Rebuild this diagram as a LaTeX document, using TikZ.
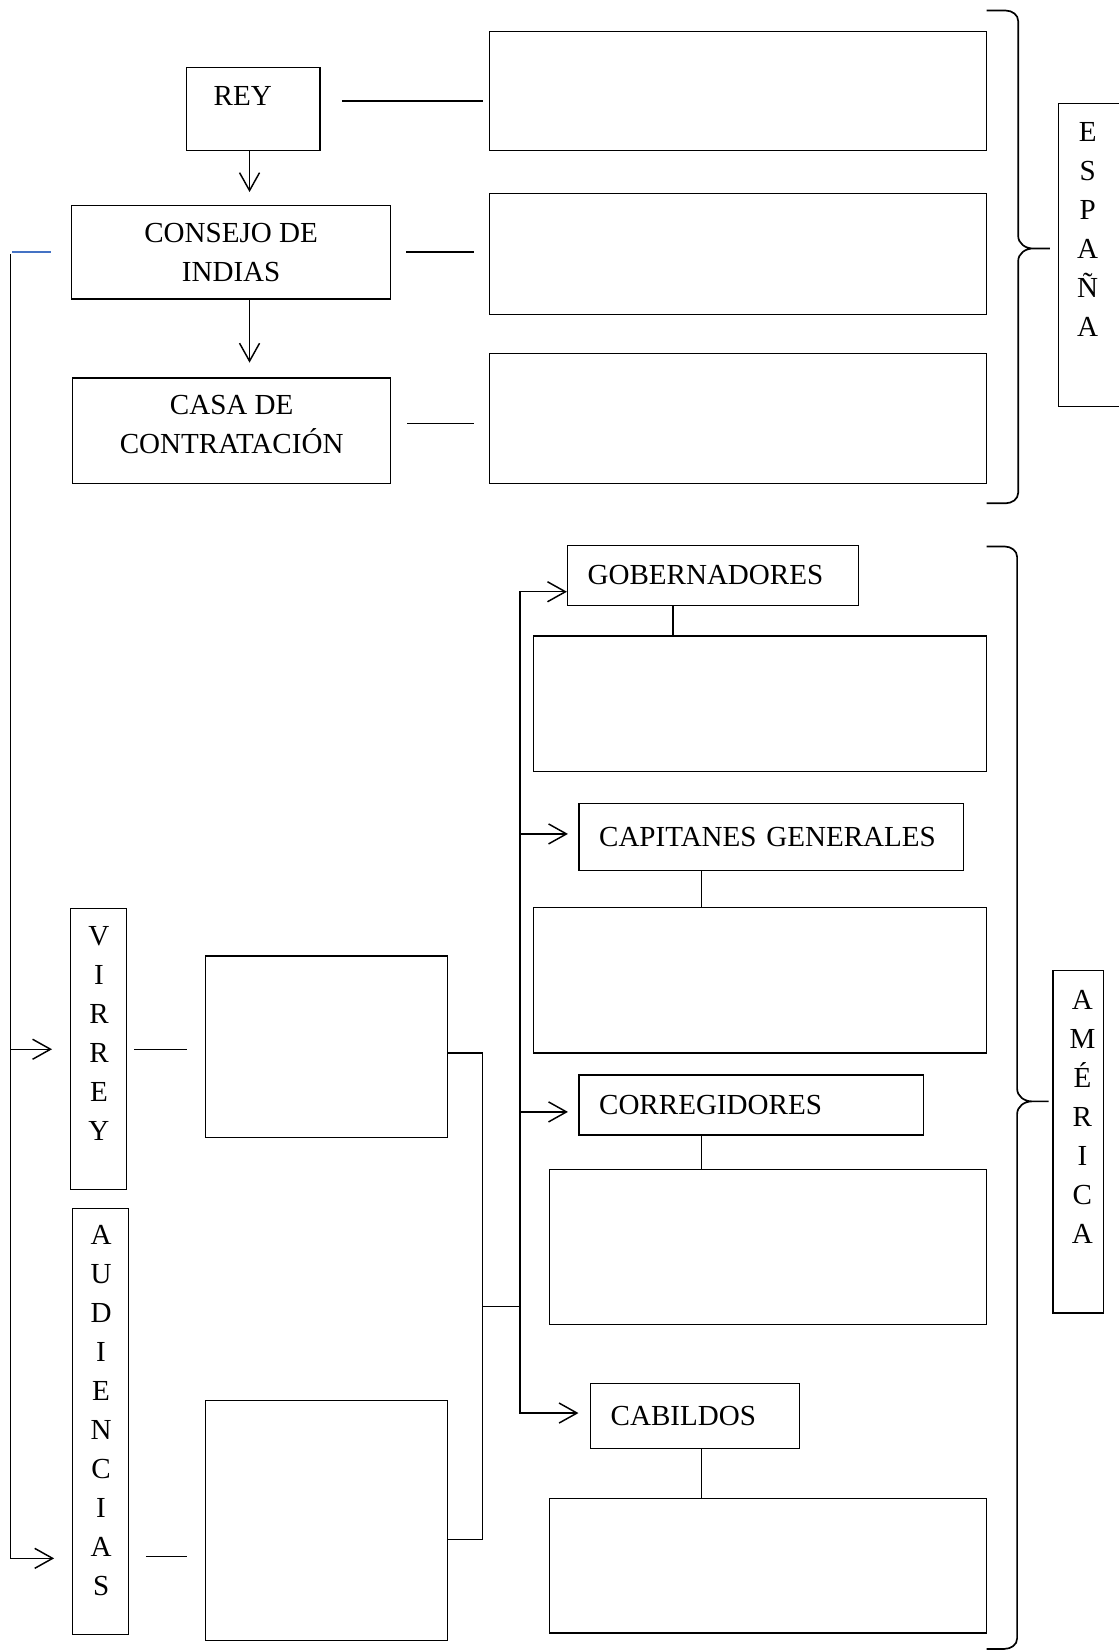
\documentclass[tikz,border=0pt]{standalone}
\usepackage{fontspec}
\setmainfont{Liberation Serif}
\usetikzlibrary{arrows.meta}
\definecolor{wordblue}{RGB}{68,114,196}

\begin{document}
\begin{tikzpicture}[x=1pt,y=-1pt,line width=1.4pt,
		font=\fontsize{27.6}{37}\selectfont,
		box/.style={draw,line width=1.2pt,inner sep=0pt},
		head/.style={draw,line width=1.2pt,inner xsep=19pt,inner ysep=0pt,align=left},
		word/.style={inner sep=0pt,anchor=north,align=center},
		arr/.style={-{Straight Barb[length=17pt,width=19pt]}},
		brace/.style={line width=1.6pt}]
				\useasboundingbox (0,0) rectangle (1062,1568);
				\node[box,minimum width=127pt,minimum height=79pt] (rey) at (240.5,103.5) {};
				\node[word] (reyT) at (230.5,81) {REY};
				\node[box,minimum width=472pt,minimum height=113pt] (rA) at (701,86.5) {};
				\node[box,minimum width=303pt,minimum height=89pt,align=center] (consejo) at (219.5,239.5) {CONSEJO DE\\INDIAS};
				\node[box,minimum width=472pt,minimum height=115pt] (rB) at (701,241.5) {};
				\node[box,minimum width=302pt,minimum height=100pt] (casa) at (220,409) {};
				\node[align=center,inner sep=0pt] (casaT) at (220,403) {CASA DE\\CONTRATACIÓN};
				\node[box,minimum width=472pt,minimum height=123pt] (rC) at (701,397.5) {};
				\node[box,minimum width=100pt,minimum height=288pt] (espana) at (1055,242) {};
				\node[word] (espanaT) at (1033,116) {E\\S\\P\\A\\Ñ\\A};
				\node[head,text width=238pt,minimum height=57pt] (gob) at (677,546.5) {GOBERNADORES};
				\node[box,minimum width=430pt,minimum height=129pt] (gobB) at (722,668.5) {};
				\node[head,text width=327pt,minimum height=64pt] (cap) at (732.5,795) {CAPITANES GENERALES};
				\node[box,minimum width=430pt,minimum height=138pt] (capB) at (722,931) {};
				\node[head,text width=289pt,minimum height=57pt] (corr) at (713.5,1049.5) {CORREGIDORES};
				\node[box,minimum width=415pt,minimum height=147pt] (corrB) at (729.5,1184.5) {};
				\node[head,text width=160pt,minimum height=62pt] (cab) at (660,1345) {CABILDOS};
				\node[box,minimum width=415pt,minimum height=128pt] (cabB) at (729.5,1487) {};
				\node[box,minimum width=48pt,minimum height=325pt] (america) at (1024,1084.5) {};
				\node[word] (americaT) at (1028,940) {A\\M\\É\\R\\I\\C\\A};
				\node[box,minimum width=53pt,minimum height=267pt] (virrey) at (93.5,996.5) {};
				\node[word] (virreyT) at (94,879) {V\\I\\R\\R\\E\\Y};
				\node[box,minimum width=230pt,minimum height=172pt] (virreyB) at (310,994) {};
				\node[box,minimum width=53pt,minimum height=404pt] (audi) at (95.5,1350) {};
				\node[word] (audiT) at (96,1163) {A\\U\\D\\I\\E\\N\\C\\I\\A\\S};
				\node[box,minimum width=230pt,minimum height=228pt] (audiB) at (310,1444) {};
				\draw ([xshift=20pt,yshift=7.5pt]rey.east) -- ([xshift=-6pt,yshift=-9.5pt]rA.west);
				\draw[shorten <=14pt,shorten >=14pt] (consejo.east) -- (consejo.east -| rB.west);
				\draw[shorten <=15pt,shorten >=14pt] ([yshift=7pt]casa.east) -- ([yshift=7pt]casa.east -| rC.west);
				\draw[arr,shorten >=12pt] ([xshift=-3.5pt]rey.south) -- ([xshift=-3.5pt]rey.south |- consejo.north);
				\draw[arr,shorten >=14pt] ([xshift=17.5pt]consejo.south) -- ([xshift=17.5pt]consejo.south |- casa.north);
				\draw[brace] (937,10) -- (955,10) to[out=0,in=90] (967,20) -- (967,224) to[out=-90,in=180] (981,236) -- (997,236)
					(981,236) to[out=180,in=90] (967,248) -- (967,468) to[out=-90,in=0] (955,478) -- (937,478);
				\draw[brace] (937,519) -- (954,519) to[out=0,in=90] (966,529) -- (966,1034) to[out=-90,in=180] (980,1046) -- (996,1046)
					(980,1046) to[out=180,in=90] (966,1058) -- (966,1556) to[out=-90,in=0] (954,1566) -- (937,1566);
				\coordinate (lt) at (10,241);
				\draw[wordblue] ([xshift=-56pt]consejo.west) -- ([xshift=-19pt]consejo.west);
				\draw[arr,shorten >=17pt] (lt) |- (virrey.west);
				\draw[arr,shorten >=17pt] (lt) |- ([yshift=-130pt]audi.west);
				\draw[shorten <=7pt,shorten >=17pt] (virrey.east) -- (virrey.east -| virreyB.west);
				\draw[shorten <=16pt,shorten >=17pt] ([yshift=-128pt]audi.east) -- ([yshift=-128pt]audi.east -| audiB.west);
				\coordinate (split) at (458,1241);
				\coordinate (trunk) at (494,1241);
				\draw ([yshift=-6pt]virreyB.east) -| (split);
				\draw ([yshift=-18pt]audiB.east) -| (split);
				\draw (split) -- (trunk);
				\draw[arr] (trunk) |- ([yshift=-15.5pt]gob.west);
				\draw[arr,shorten >=10pt] (trunk) |- ([yshift=3pt]cap.west);
				\draw[arr,shorten >=10pt] (trunk) |- ([yshift=-6.5pt]corr.west);
				\draw[arr,shorten >=11pt] (trunk) |- ([yshift=3pt]cab.west);
				\draw ([xshift=-38pt]gob.south) -- ([xshift=-38pt]gob.south |- gobB.north);
				\draw ([xshift=-66.5pt]cap.south) -- ([xshift=-66.5pt]cap.south |- capB.north);
				\draw ([xshift=-47.5pt]corr.south) -- ([xshift=-47.5pt]corr.south |- corrB.north);
				\draw ([xshift=6pt]cab.south) -- ([xshift=6pt]cab.south |- cabB.north);
			\end{tikzpicture}
\end{document}
